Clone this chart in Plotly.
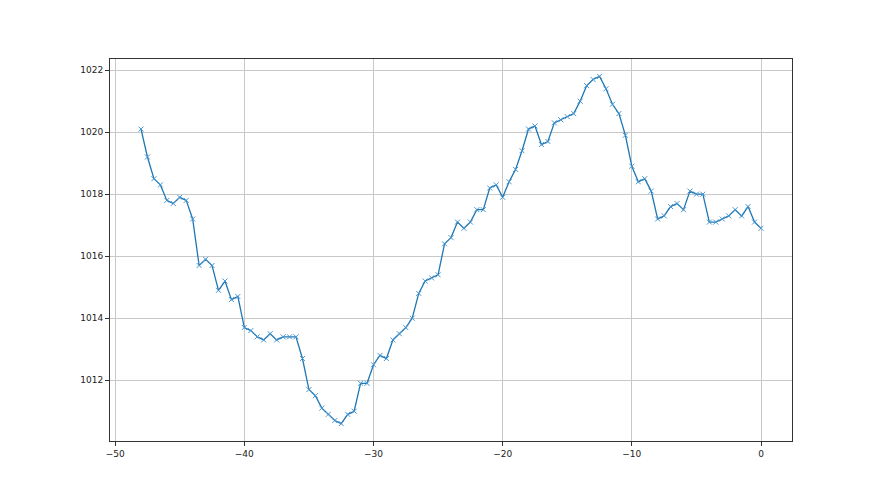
import numpy as np
import plotly.graph_objects as go

x_vals = [-48 + 0.5 * i for i in range(97)]
pressure = [
    1020.1, 1019.2, 1018.5, 1018.3, 1017.8, 1017.7, 1017.9, 1017.8, 1017.2, 1015.7,
    1015.9, 1015.7, 1014.9, 1015.2, 1014.6, 1014.7, 1013.7, 1013.6, 1013.4, 1013.3,
    1013.5, 1013.3, 1013.4, 1013.4, 1013.4, 1012.7, 1011.7, 1011.5, 1011.1, 1010.9,
    1010.7, 1010.6, 1010.9, 1011.0, 1011.9, 1011.9, 1012.5, 1012.8, 1012.7, 1013.3,
    1013.5, 1013.7, 1014.0, 1014.8, 1015.2, 1015.3, 1015.4, 1016.4, 1016.6, 1017.1,
    1016.9, 1017.1, 1017.5, 1017.5, 1018.2, 1018.3, 1017.9, 1018.4, 1018.8, 1019.4,
    1020.1, 1020.2, 1019.6, 1019.7, 1020.3, 1020.4, 1020.5, 1020.6, 1021.0, 1021.5,
    1021.7, 1021.8, 1021.4, 1020.9, 1020.6, 1019.9, 1018.9, 1018.4, 1018.5, 1018.1,
    1017.2, 1017.3, 1017.6, 1017.7, 1017.5, 1018.1, 1018.0, 1018.0, 1017.1, 1017.1,
    1017.2, 1017.3, 1017.5, 1017.3, 1017.6, 1017.1, 1016.9,
]
x_ticks = [-50, -40, -30, -20, -10, 0]
y_ticks = [1012, 1014, 1016, 1018, 1020, 1022]

fig = go.Figure()
fig.add_trace(go.Scatter(
    x=x_vals, y=pressure, mode="lines+markers",
    line=dict(color="#1f77b4", width=1.3),
    marker=dict(symbol="x-thin", size=5, color="#1f77b4",
                line=dict(color="#4a96d0", width=1)),
    showlegend=False,
))

axis_common = dict(
    showline=True, mirror=True, linecolor="#333333", linewidth=1,
    showgrid=True, gridcolor="#c8c8c8", gridwidth=0.8,
    ticks="outside", ticklen=4, tickcolor="#333333", tickwidth=0.8,
    zeroline=False,
    tickfont=dict(family="DejaVu Sans", size=9, color="#222222"),
)
fig.update_xaxes(range=[-50.4, 2.4], tickvals=x_ticks, **axis_common)
fig.update_yaxes(range=[1010.04, 1022.36], tickvals=y_ticks, **axis_common)

fig.update_layout(
    width=880, height=495,
    margin=dict(l=102, r=96, t=51, b=62),
    paper_bgcolor="white", plot_bgcolor="white",
)
fig.write_html("out.html")
